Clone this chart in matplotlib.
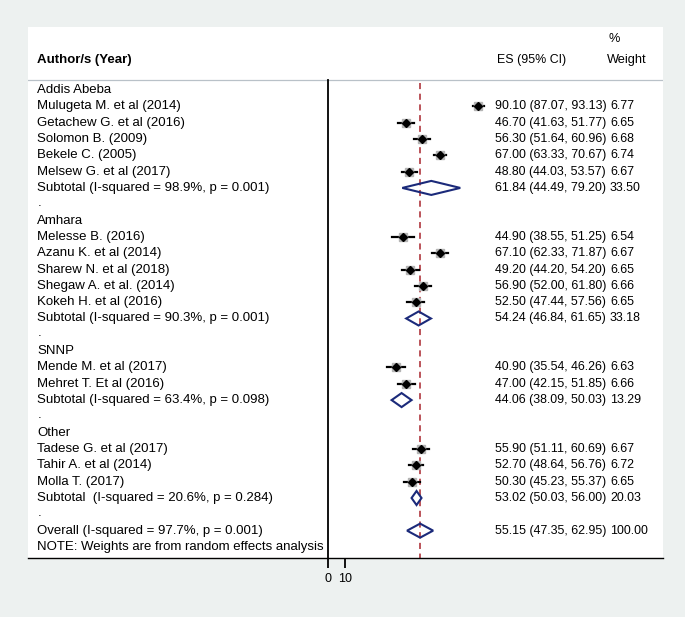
import matplotlib.pyplot as plt
import matplotlib.transforms as mtransforms
from matplotlib.patches import Polygon

plt.rcParams['font.family'] = ['Liberation Sans', 'DejaVu Sans']
plt.rcParams['font.size'] = 9

# data
groups = ['Addis Abeba', 'Amhara', 'SNNP', 'Other']

addis_names = ['Mulugeta M. et al (2014)', 'Getachew G. et al (2016)', 'Solomon B. (2009)',
               'Bekele C. (2005)', 'Melsew G. et al (2017)']
addis_es = [90.10, 46.70, 56.30, 67.00, 48.80]
addis_lo = [87.07, 41.63, 51.64, 63.33, 44.03]
addis_hi = [93.13, 51.77, 60.96, 70.67, 53.57]
addis_wt = [6.77, 6.65, 6.68, 6.74, 6.67]

amhara_names = ['Melesse B. (2016)', 'Azanu K. et al (2014)', 'Sharew N. et al (2018)',
                'Shegaw A. et al. (2014)', 'Kokeh H. et al (2016)']
amhara_es = [44.90, 67.10, 49.20, 56.90, 52.50]
amhara_lo = [38.55, 62.33, 44.20, 52.00, 47.44]
amhara_hi = [51.25, 71.87, 54.20, 61.80, 57.56]
amhara_wt = [6.54, 6.67, 6.65, 6.66, 6.65]

snnp_names = ['Mende M. et al (2017)', 'Mehret T. Et al (2016)']
snnp_es = [40.90, 47.00]
snnp_lo = [35.54, 42.15]
snnp_hi = [46.26, 51.85]
snnp_wt = [6.63, 6.66]

other_names = ['Tadese G. et al (2017)', 'Tahir A. et al (2014)', 'Molla T. (2017)']
other_es = [55.90, 52.70, 50.30]
other_lo = [51.11, 48.64, 45.23]
other_hi = [60.69, 56.76, 55.37]
other_wt = [6.67, 6.72, 6.65]

sub_labels = ['Subtotal (I-squared = 98.9%, p = 0.001)',
              'Subtotal (I-squared = 90.3%, p = 0.001)',
              'Subtotal (I-squared = 63.4%, p = 0.098)',
              'Subtotal  (I-squared = 20.6%, p = 0.284)']
sub_es = [61.84, 54.24, 44.06, 53.02]
sub_lo = [44.49, 46.84, 38.09, 50.03]
sub_hi = [79.20, 61.65, 50.03, 56.00]
sub_wt = [33.50, 33.18, 13.29, 20.03]

overall_label = 'Overall (I-squared = 97.7%, p = 0.001)'
overall_es, overall_lo, overall_hi, overall_wt = 55.15, 47.35, 62.95, 100.00
xticks = [0, 10]

study_data = [
    (addis_names, addis_es, addis_lo, addis_hi, addis_wt),
    (amhara_names, amhara_es, amhara_lo, amhara_hi, amhara_wt),
    (snnp_names, snnp_es, snnp_lo, snnp_hi, snnp_wt),
    (other_names, other_es, other_lo, other_hi, other_wt),
]

navy = '#1b2a7a'
red = '#a8242c'
fs_lab, fs_num = 9.5, 8.9

fig = plt.figure(figsize=(6.85, 6.17), dpi=100, facecolor='#edf1f0')
W, H = 685, 617
ax = fig.add_axes([28 / W, (H - 558) / H, 635 / W, 531 / H])
ax.set_facecolor('white')

px_per_unit = 1.67
ax.set_xlim((28 - 328) / px_per_unit, (663 - 328) / px_per_unit)
row_h = 16.32
ax.set_ylim((558 - 90) / row_h, (27 - 90) / row_h)

for s in ['top', 'right', 'left']:
    ax.spines[s].set_visible(False)
ax.spines['bottom'].set_linewidth(1.0)
ax.set_yticks([])
ax.set_xticks(xticks)
ax.set_xticklabels([str(t) for t in xticks], fontsize=9)
ax.tick_params(axis='x', direction='out', length=7, width=1.3, pad=4)

tr = mtransforms.blended_transform_factory(ax.transAxes, ax.transData)
x_lab, x_es, x_wt = 0.0142, 0.7355, 0.9165


def diamond(y, es, lo, hi):
    ax.add_patch(Polygon([(lo, y), (es, y - 0.43), (hi, y), (es, y + 0.43)],
                         closed=True, fill=False, edgecolor=navy, lw=1.5, zorder=4))


def row_text(y, label, es, lo, hi, wt):
    ax.text(x_lab, y, label, transform=tr, va='center', ha='left', fontsize=fs_lab)
    ax.text(x_es, y, f'{es:.2f} ({lo:.2f}, {hi:.2f})', transform=tr, va='center',
            ha='left', fontsize=fs_num)
    ax.text(x_wt, y, f'{wt:.2f}', transform=tr, va='center', ha='left', fontsize=fs_num)


# headers
ax.text(x_lab, -1.85, 'Author/s (Year)', transform=tr, va='center', fontweight='bold',
        fontsize=fs_lab)
ax.text(x_es + 0.003, -1.85, 'ES (95% CI)', transform=tr, va='center', fontsize=fs_num)
ax.text(x_wt - 0.005, -1.85, 'Weight', transform=tr, va='center', fontsize=fs_num + 0.3)
ax.text(x_wt - 0.002, -3.1, '%', transform=tr, va='center', fontsize=fs_num + 0.3)
ax.axhline(-0.6, color='#b9c1c8', lw=0.9)

row = 0
for g, (names, es, lo, hi, wt) in enumerate(study_data):
    ax.text(x_lab, row, groups[g], transform=tr, va='center', fontsize=fs_lab)
    row += 1
    for n, e, l, h, w in zip(names, es, lo, hi, wt):
        ax.plot([l, h], [row, row], color='black', lw=1.6, zorder=3)
        ax.plot(e, row, marker='s', ms=6, color='#b4b4b4', zorder=3)
        ax.plot(e, row, marker='D', ms=3.6, color='black', zorder=4)
        row_text(row, n, e, l, h, w)
        row += 1
    diamond(row, sub_es[g], sub_lo[g], sub_hi[g])
    row_text(row, sub_labels[g], sub_es[g], sub_lo[g], sub_hi[g], sub_wt[g])
    row += 1
    ax.text(x_lab + 0.001, row - 0.1, '.', transform=tr, va='center', fontsize=fs_lab)
    row += 1

diamond(row, overall_es, overall_lo, overall_hi)
row_text(row, overall_label, overall_es, overall_lo, overall_hi, overall_wt)
row += 1
ax.text(x_lab, row, 'NOTE: Weights are from random effects analysis', transform=tr,
        va='center', fontsize=fs_lab)

ybot = ax.get_ylim()[0]
ax.plot([0, 0], [-0.6, ybot], color='black', lw=1.3, zorder=2)
ax.plot([overall_es, overall_es], [-0.45, ybot], color=red, lw=1.1,
        linestyle=(0, (4, 3)), zorder=1)

fig.savefig('out.png', dpi=100, facecolor=fig.get_facecolor())
